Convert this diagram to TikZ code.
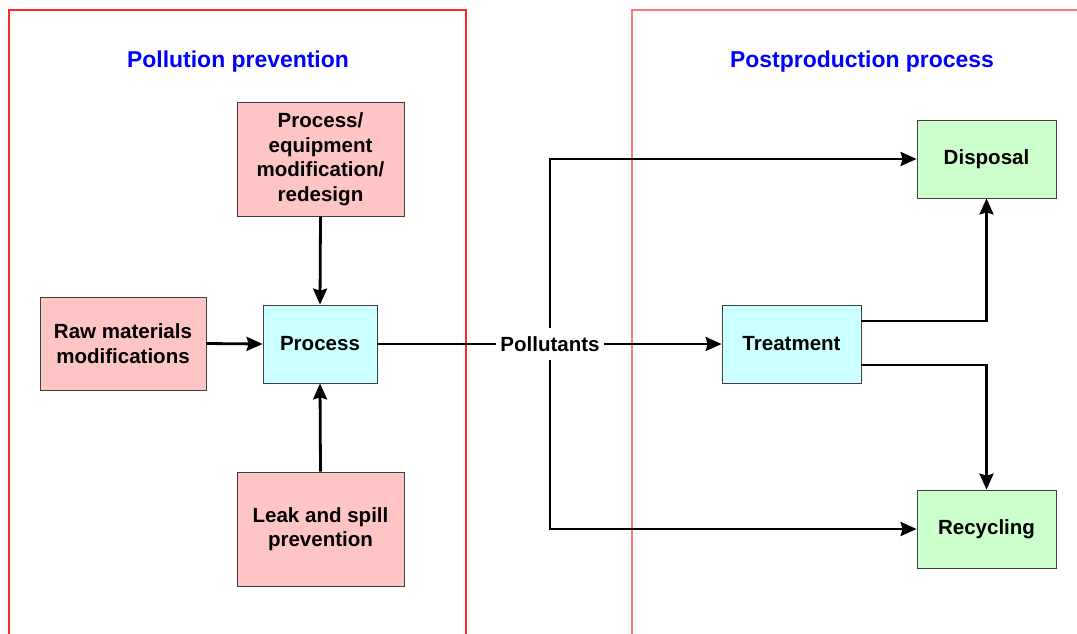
\documentclass[tikz,border=0pt]{standalone}
\usepackage{fontspec}
\setmainfont{Liberation Sans}
\usetikzlibrary{arrows.meta}
\definecolor{pinkbox}{RGB}{255,196,196}
\definecolor{cyanbox}{RGB}{204,255,255}
\definecolor{greenbox}{RGB}{204,255,204}
\definecolor{panelred}{RGB}{255,40,40}
\definecolor{panellight}{RGB}{255,120,120}

\begin{document}
\begin{tikzpicture}[x=0.75pt, y=-0.75pt,
  box/.style={draw=black!75, line width=0.6pt, align=center, inner sep=2pt,
    font=\fontsize{15.4}{18.4}\selectfont\bfseries},
  prev/.style={box, fill=pinkbox, minimum width=125.25pt, minimum height=85.5pt},
  core/.style={box, fill=cyanbox, minimum width=85.5pt, minimum height=58.5pt},
  post/.style={box, fill=greenbox, minimum width=104.25pt, minimum height=58.5pt},
  title/.style={text=blue, font=\fontsize{17.2}{20}\selectfont\bfseries},
  arr/.style={line width=2.1pt, -{Stealth[length=12pt, width=10.5pt, inset=1.5pt]}},
  plain/.style={line width=2.1pt}]
\useasboundingbox (0,0) rectangle (1077,633);
\draw [panelred, line width=0.8pt] (9,10) rectangle (466,645);
\draw [panellight, line width=0.8pt] (632,10) rectangle (1090,645);
\node [title] (prevtitle) at (238,62) {Pollution prevention};
\node [title] (posttitle) at (862,62) {Postproduction process};

\node [prev] (equip) at (320.5,159) {Process/\\equipment\\modification/\\redesign};
\node [prev, minimum width=124.5pt, minimum height=69.75pt] (raw) at (123,343.5) {Raw materials\\modifications};
\node [prev] (leak) at (320.5,529) {Leak and spill\\prevention};
\node [core] (proc) at (320,344) {Process};
\node [box, fill=white, draw=none, inner xsep=3pt, inner ysep=6pt] (poll) at (550,344) {Pollutants};
\node [core, minimum width=104.25pt] (treat) at (791.5,344) {Treatment};
\node [post] (disp) at (986.5,159) {Disposal};
\node [post] (recy) at (986.5,529) {Recycling};

\draw [arr] (equip.south) -- (proc.north);
\draw [arr] (leak.north) -- (proc.south);
\draw [arr] (raw.east) -- (proc.west);
\draw [plain] (proc.east) -- (poll.west);
\draw [arr] (poll.east) -- (treat.west);
\draw [arr] (poll.north) |- (disp.west);
\draw [arr] (poll.south) |- (recy.west);
\draw [arr] ([yshift=17.25pt]treat.east) -| (disp.south);
\draw [arr] ([yshift=-15.75pt]treat.east) -| (recy.north);
\end{tikzpicture}
\end{document}
